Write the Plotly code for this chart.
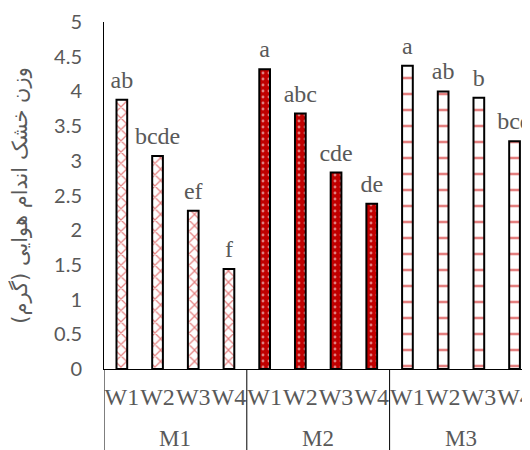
import plotly.graph_objects as go

groups = ["M1", "M2", "M3"]
levels = ["W1", "W2", "W3", "W4"]
m1_values = [3.88, 3.07, 2.28, 1.44]
m2_values = [4.32, 3.68, 2.83, 2.38]
m3_values = [4.37, 4.00, 3.91, 3.28]
m1_letters = ["ab", "bcde", "ef", "f"]
m2_letters = ["a", "abc", "cde", "de"]
m3_letters = ["a", "ab", "b", "bcd"]
y_title = "وزن خشک اندام هوایی (گرم)"

series_values = [m1_values, m2_values, m3_values]
series_letters = [m1_letters, m2_letters, m3_letters]
patterns = [
    dict(shape="x", fgcolor="#C80000", bgcolor="white", size=8, solidity=0.28),
    dict(shape=".", fgcolor="white", bgcolor="#C00000", size=6, solidity=0.18),
    dict(shape="-", fgcolor="#C80000", bgcolor="white", size=16, solidity=0.16),
]

GRAY = "#595959"
SERIF = "Liberation Serif, Times New Roman, serif"
n = len(levels)
fig = go.Figure()
tickvals, ticktext = [], []
for gi, (g, vals, lets, pat) in enumerate(zip(groups, series_values, series_letters, patterns)):
    xs = [gi * n + li for li in range(n)]
    tickvals += xs
    ticktext += levels
    fig.add_trace(go.Bar(
        x=xs, y=vals, width=0.3,
        marker=dict(color="white", line=dict(color="black", width=2), pattern=pat),
        showlegend=False, hoverinfo="skip",
    ))
    fig.add_trace(go.Scatter(
        x=xs, y=vals, text=lets,
        mode="markers+text", textposition="top center",
        marker=dict(size=8, opacity=0),
        textfont=dict(family=SERIF, size=24, color=GRAY),
        cliponaxis=False, showlegend=False, hoverinfo="skip",
    ))
    fig.add_annotation(
        x=gi * n + (n - 1) / 2, xref="x", y=0, yref="paper", yshift=-69,
        yanchor="middle", showarrow=False, text=g,
        font=dict(family=SERIF, size=23, color=GRAY),
    )
    fig.add_shape(
        type="line", xref="x", yref="paper",
        x0=gi * n - 0.5, x1=gi * n - 0.5, y0=0, y1=-0.35,
        line=dict(color="black", width=1),
    )

fig.update_layout(
    width=530, height=450,
    margin=dict(l=96, r=0, t=14, b=89),
    paper_bgcolor="white", plot_bgcolor="white",
    barmode="overlay",
)
fig.update_xaxes(
    range=[-0.5, 11.657], automargin=False,
    showline=True, linecolor="black", linewidth=1,
    showgrid=False, zeroline=False, ticks="", tickangle=0,
    tickmode="array", tickvals=tickvals, ticktext=ticktext,
    tickfont=dict(family=SERIF, size=24, color=GRAY),
    ticklabelstandoff=6,
)
fig.update_yaxes(
    range=[0, 5], dtick=0.5, tickformat="~g", automargin=False,
    showline=True, linecolor="black", linewidth=1,
    showgrid=False, zeroline=False, ticks="",
    tickfont=dict(family="Lato", size=20, color=GRAY),
    ticklabelstandoff=17,
    title=dict(text=y_title, font=dict(family="DejaVu Sans", size=21, color=GRAY), standoff=40),
)
fig.write_html("out.html")
